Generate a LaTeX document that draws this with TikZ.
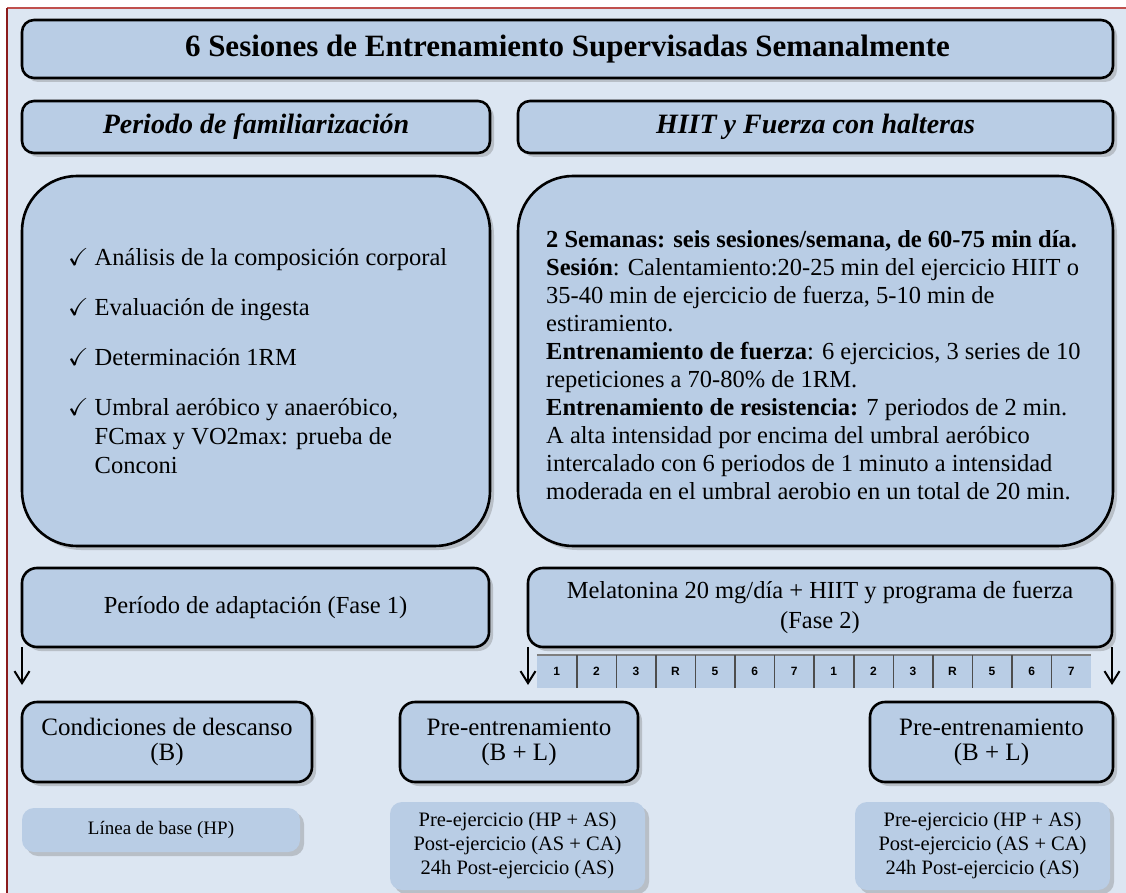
\documentclass[tikz,border=0pt]{standalone}
\usepackage{amssymb}
\usepackage{fontspec}
\setmainfont{Liberation Serif}[Ligatures=TeX]
\newfontfamily\celdafont{Liberation Sans}
\usetikzlibrary{arrows.meta,positioning,shadows}
\definecolor{fondo}{HTML}{DCE6F2}
\definecolor{azulcaja}{HTML}{B9CDE5}
\definecolor{marco}{HTML}{C0504D}
\definecolor{marcooscuro}{HTML}{8C1C1C}
\definecolor{grisdia}{HTML}{7F7F7F}
\definecolor{grisosc}{HTML}{4D4D4D}
\tikzset{
  sombra/.style={drop shadow={shadow xshift=4pt,shadow yshift=-4pt,opacity=0.3,fill=black!60}},
  cajabase/.style={draw=black,line width=2.6pt,fill=azulcaja,align=center,inner sep=0pt,outer sep=0pt,sombra},
  cajatit/.style={cajabase,rounded corners=12pt,font=\bfseries\fontsize{31}{36}\selectfont},
  cajahdr/.style={cajabase,rounded corners=12pt,minimum height=52pt,font=\bfseries\itshape\fontsize{28}{32}\selectfont},
  cajagrande/.style={cajabase,rounded corners=55pt,minimum height=370pt},
  cajafase/.style={cajabase,rounded corners=15pt,minimum height=79pt,font=\fontsize{24.5}{30}\selectfont},
  cajaabajo/.style={cajabase,rounded corners=15pt,minimum height=80pt,font=\fontsize{25}{25}\selectfont},
  cajaclara/.style={fill=azulcaja,rounded corners=12pt,align=center,inner sep=0pt,sombra,font=\fontsize{20.5}{24}\selectfont},
  textolista/.style={align=left,inner sep=0pt,font=\fontsize{24.5}{29}\selectfont},
  textohiit/.style={align=left,inner sep=0pt,font=\fontsize{24.5}{28}\selectfont},
  celda/.style={fill=azulcaja,minimum width=39.57pt,minimum height=33pt,inner sep=0pt,font=\celdafont\bfseries\fontsize{12}{12}\selectfont},
  flecha/.style={line width=2pt,-{Straight Barb[length=12pt,width=15pt]}}
}
\begin{document}
\begin{tikzpicture}[x=1pt,y=-1pt]
  \useasboundingbox (0,0) rectangle (1126,893);
  \fill[fondo] (7,8) rectangle (1126,893);
  \draw[marco,line width=1.5pt] (7,8) -- (1126,8);
  \draw[marcooscuro,line width=1.5pt] (7,8) -- (7,893);

  \node[cajatit,minimum width=1091pt,minimum height=58pt] (titulo) at (567.5,49) {6 Sesiones de Entrenamiento Supervisadas Semanalmente};
  \node[cajahdr,minimum width=468pt] (famhdr) at (256,127) {Periodo de familiarización};
  \node[cajahdr,minimum width=595pt] (hiithdr) at (815.5,127) {HIIT y Fuerza con halteras};

  \node[cajagrande,minimum width=468pt] (fambox) at (256,361) {};
  \node[cajagrande,minimum width=595pt] (hiitbox) at (815.5,361) {};
  \node[textolista,anchor=west] (famtxt) at ([xshift=46pt]fambox.west) {$\checkmark$\ Análisis de la composición corporal\\[21pt]
    $\checkmark$\ Evaluación de ingesta\\[21pt]
    $\checkmark$\ Determinación 1RM\\[21pt]
    $\checkmark$\ Umbral aeróbico y anaeróbico,\\
    \hphantom{$\checkmark$\ }FCmax y VO2max: prueba de\\
    \hphantom{$\checkmark$\ }Conconi};
  \node[textohiit,anchor=west] (hiittxt) at ([xshift=28pt,yshift=-4pt]hiitbox.west) {\textbf{2 Semanas: seis sesiones/semana, de 60-75 min día.}\\
    \textbf{Sesión}: Calentamiento:20-25 min del ejercicio HIIT o\\
    35-40 min de ejercicio de fuerza, 5-10 min de\\
    estiramiento.\\
    \textbf{Entrenamiento de fuerza}: 6 ejercicios, 3 series de 10\\
    repeticiones a 70-80\% de 1RM.\\
    \textbf{Entrenamiento de resistencia:} 7 periodos de 2 min.\\
    A alta intensidad por encima del umbral aeróbico\\
    intercalado con 6 periodos de 1 minuto a intensidad\\
    moderada en el umbral aerobio en un total de 20 min.};

  \node[cajafase,minimum width=467pt] (adapt) at (255.5,607.5) {Período de adaptación (Fase 1)};
  \node[cajafase,minimum width=584pt] (melat) at (820,607.5) {Melatonina 20 mg/día + HIIT y programa de fuerza\\(Fase 2)};

  \foreach \d [count=\i] in {1,2,3,R,5,6,7,1,2,3,R,5,6,7}
    \node[celda] (dia\i) at ({537+39.57*(\i-0.5)},671.5) {\d};
  \draw[grisdia,line width=2pt] (dia1.north west) -- (dia14.north east);
  \foreach \i in {1,...,13}
    \draw[grisosc,line width=1.5pt] (dia\i.north east) -- (dia\i.south east);

  \coordinate (finA) at (22,685);
  \coordinate (finB) at (528,685);
  \coordinate (finC) at (1112,685);
  \draw[flecha] (adapt.south west) -- (finA);
  \draw[flecha] (melat.south west) -- (finB);
  \draw[flecha] (melat.south east) -- (finC);

  \node[cajaabajo,minimum width=290pt] (descanso) at (167,742) {Condiciones de descanso\\(B)};
  \node[cajaabajo,minimum width=238pt] (preA) at (519,742) {Pre-entrenamiento\\(B + L)};
  \node[cajaabajo,minimum width=243pt] (preB) at (991.5,742) {Pre-entrenamiento\\(B + L)};

  \node[cajaclara,minimum width=278pt,minimum height=44pt] (base) at (161,830) {\fontsize{19}{24}\selectfont Línea de base (HP)};
  \node[cajaclara,minimum width=255pt,minimum height=88pt] (ejA) at (517.5,846) {Pre-ejercicio (HP + AS)\\Post-ejercicio (AS + CA)\\24h Post-ejercicio (AS)};
  \node[cajaclara,minimum width=255pt,minimum height=88pt] (ejB) at (982.5,846) {Pre-ejercicio (HP + AS)\\Post-ejercicio (AS + CA)\\24h Post-ejercicio (AS)};
\end{tikzpicture}
\end{document}
